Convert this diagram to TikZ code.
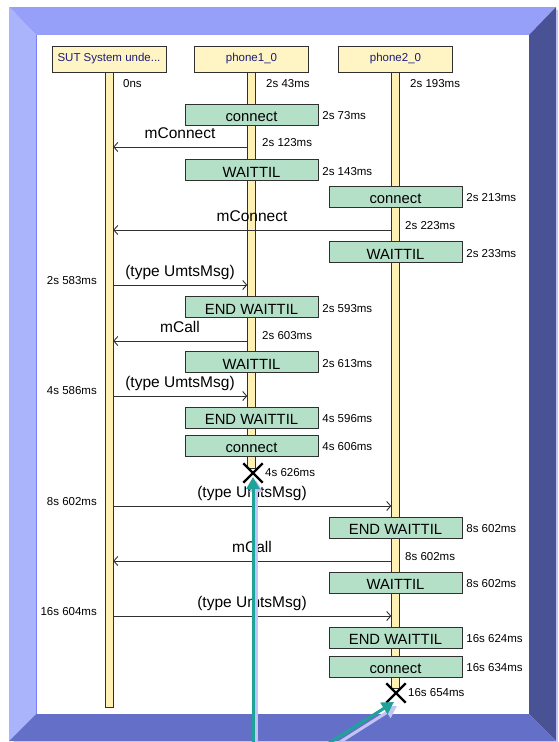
\documentclass[tikz,border=0pt]{standalone}
\usepackage{fontspec}
\setmainfont{Liberation Sans}
\usetikzlibrary{arrows.meta,shapes.misc}
\definecolor{headfill}{HTML}{FFF4C4}
\definecolor{barfill}{HTML}{FFF0B4}
\definecolor{actfill}{HTML}{B4E0C8}
\definecolor{headtext}{HTML}{1C1C78}
\definecolor{edge}{HTML}{303030}
\definecolor{bevtop}{HTML}{96A0F8}
\definecolor{bevleft}{HTML}{AAB4FA}
\definecolor{bevright}{HTML}{4A5296}
\definecolor{bevbot}{HTML}{6470C8}
\definecolor{teal}{HTML}{1EA29A}
\definecolor{lav}{HTML}{C4C4F4}
\newcommand\tsfont{\fontsize{11.5}{13}\selectfont}
\newcommand\hdfont{\fontsize{11.5}{13}\selectfont}
\newcommand\bxfont{\fontsize{14.8}{16}\selectfont}
\newcommand\mgfont{\fontsize{15.5}{17}\selectfont}
\tikzset{
  head/.style={draw=edge, fill=headfill, minimum width=114pt, minimum height=26pt, inner sep=0pt, font=\hdfont, text=headtext},
  lifebar/.style={draw=edge, fill=barfill, minimum width=8pt, inner sep=0pt},
  act/.style={draw=edge, fill=actfill, minimum width=133pt, minimum height=21pt, inner sep=0pt, font=\bxfont, text height=14pt, text depth=0pt},
  ts/.style={font=\tsfont, inner sep=0pt},
  msg/.style={draw=edge, line width=0.9pt, -{Straight Barb[length=4pt,width=9pt]}},
  mlabel/.style={font=\mgfont, inner sep=0pt, anchor=base},
  endmark/.style={cross out, draw=black, line width=2.4pt, minimum size=17pt, inner sep=0pt},
  pointer/.style={draw=teal, line width=3pt, -{Triangle[length=12pt,width=13pt]}},
  pshadow/.style={draw=lav, line width=3pt, -{Triangle[length=12pt,width=13pt]}}
}
\begin{document}
\begin{tikzpicture}[x=1pt,y=-1pt]
\useasboundingbox (0,0) rectangle (558,742);
% frame
\fill[white] (0,0) rectangle (558,742);
\fill[bevtop] (9,7) -- (556,7) -- (529,35) -- (36,35) -- cycle;
\fill[bevleft] (9,7) -- (36,35) -- (36,714) -- (9,741) -- cycle;
\fill[bevright] (556,7) -- (556,741) -- (529,714) -- (529,35) -- cycle;
\fill[bevbot] (9,741) -- (36,714) -- (529,714) -- (556,741) -- cycle;
\fill[white] (36,35) rectangle (529,714);
\fill[lav] (556,10) rectangle (558,742);
\fill[lav] (14,741) rectangle (556,742);
\draw[color=bevtop!80!blue, line width=0.8pt] (36,35) -- (36,714);

% lifelines
\node[lifebar, minimum height=635pt] (sutbar) at (109,389.5) {};
\node[lifebar, minimum height=396pt] (p1bar) at (251.5,270) {};
\node[lifebar, minimum height=616pt] (p2bar) at (395.5,380) {};
\node[head] (sut) at (109,59) {SUT System unde...};
\node[head] (p1) at (251.5,59) {phone1\_0};
\node[head] (p2) at (395.5,59) {phone2\_0};
\node[ts, anchor=west] (t0) at (123,84) {0ns};
\node[ts, anchor=west] (t1) at (266,84) {2s 43ms};
\node[ts, anchor=west] (t2) at (410,84) {2s 193ms};

% activities phone1
\node[act] (p1c1) at (251.5,114.5) {connect};
\node[act] (p1w1) at (251.5,170) {WAITTIL};
\node[act] (p1e1) at (251.5,307) {END WAITTIL};
\node[act] (p1w2) at (251.5,362) {WAITTIL};
\node[act] (p1e2) at (251.5,417.5) {END WAITTIL};
\node[act] (p1c2) at (251.5,445.5) {connect};
% activities phone2
\node[act] (p2c1) at (395.5,196.5) {connect};
\node[act] (p2w1) at (395.5,252) {WAITTIL};
\node[act] (p2e1) at (395.5,527.5) {END WAITTIL};
\node[act] (p2w2) at (395.5,582.5) {WAITTIL};
\node[act] (p2e2) at (395.5,637.5) {END WAITTIL};
\node[act] (p2c2) at (395.5,666.5) {connect};
% activity times
\foreach \b/\t in {p1c1/2s 73ms, p1w1/2s 143ms, p1e1/2s 593ms, p1w2/2s 613ms, p1e2/4s 596ms, p1c2/4s 606ms,
                   p2c1/2s 213ms, p2w1/2s 233ms, p2e1/8s 602ms, p2w2/8s 602ms, p2e2/16s 624ms, p2c2/16s 634ms}
  \node[ts, anchor=west] (\b-t) at ([shift={(4,1.5)}]\b.east) {\t};

% end marks
\node[endmark] (x1) at (253,473) {};
\node[endmark] (x2) at (396,693) {};
\node[ts, anchor=west] (x1t) at (265,473) {4s 626ms};
\node[ts, anchor=west] (x2t) at (408,693) {16s 654ms};

% messages
\coordinate (m1) at (0,147);
\coordinate (m2) at (0,230);
\coordinate (m3) at (0,285);
\coordinate (m4) at (0,341);
\coordinate (m5) at (0,396);
\coordinate (m6) at (0,506);
\coordinate (m7) at (0,561);
\coordinate (m8) at (0,616);
\draw[msg] (p1bar.west |- m1) -- (sutbar.east |- m1);
\node[mlabel] (m1l) at (180,138.5) {mConnect};
\node[ts, anchor=west] (m1t) at (262,143) {2s 123ms};

\draw[msg] (p2bar.west |- m2) -- (sutbar.east |- m2);
\node[mlabel] (m2l) at (252,221.5) {mConnect};
\node[ts, anchor=west] (m2t) at (405,226) {2s 223ms};

\draw[msg] (sutbar.east |- m3) -- (p1bar.west |- m3);
\node[mlabel] (m3l) at (180,276.5) {(type UmtsMsg)};
\node[ts, anchor=east] (m3t) at (97,281) {2s 583ms};

\draw[msg] (p1bar.west |- m4) -- (sutbar.east |- m4);
\node[mlabel] (m4l) at (180,332.5) {mCall};
\node[ts, anchor=west] (m4t) at (262,336) {2s 603ms};

\draw[msg] (sutbar.east |- m5) -- (p1bar.west |- m5);
\node[mlabel] (m5l) at (180,387.5) {(type UmtsMsg)};
\node[ts, anchor=east] (m5t) at (97,391) {4s 586ms};

\draw[msg] (sutbar.east |- m6) -- (p2bar.west |- m6);
\node[mlabel] (m6l) at (252,497.5) {(type UmtsMsg)};
\node[ts, anchor=east] (m6t) at (97,502) {8s 602ms};

\draw[msg] (p2bar.west |- m7) -- (sutbar.east |- m7);
\node[mlabel] (m7l) at (252,552.5) {mCall};
\node[ts, anchor=west] (m7t) at (405,557) {8s 602ms};

\draw[msg] (sutbar.east |- m8) -- (p2bar.west |- m8);
\node[mlabel] (m8l) at (252,607.5) {(type UmtsMsg)};
\node[ts, anchor=east] (m8t) at (97,612) {16s 604ms};

% pointer arrows
\coordinate (a1s) at (253,745);
\coordinate (a1e) at (253,477);
\coordinate (a2s) at (326,745);
\coordinate (a2e) at (394,702);
\draw[pshadow] ([shift={(3,3)}]a1s) -- ([shift={(3,3)}]a1e);
\draw[pshadow] ([shift={(3,4)}]a2s) -- ([shift={(3,4)}]a2e);
\draw[pointer] (a1s) -- (a1e);
\draw[pointer] (a2s) -- (a2e);
\end{tikzpicture}
\end{document}
